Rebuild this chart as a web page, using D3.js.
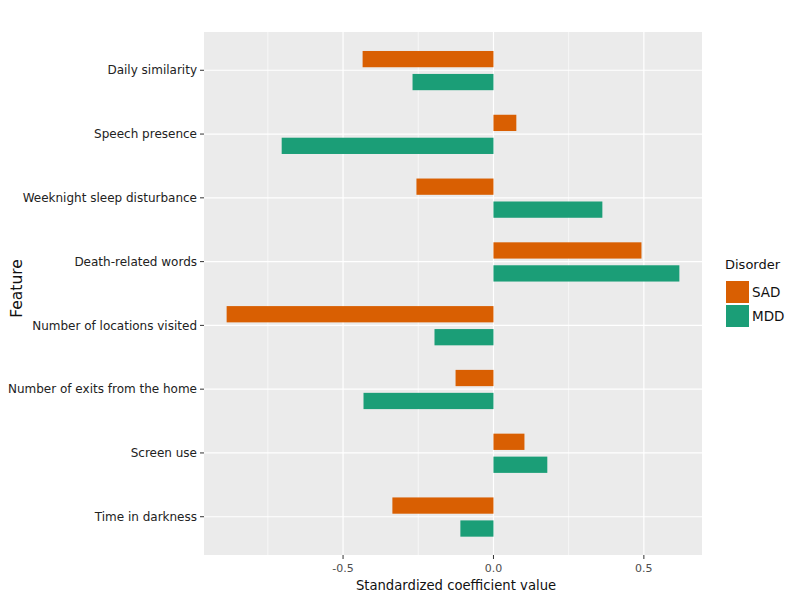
<!DOCTYPE html>
<html><head><meta charset="utf-8">
<script src="https://cdn.jsdelivr.net/npm/d3@7"></script>
<style>body{margin:0;background:#fff}svg{font-family:"DejaVu Sans",Verdana,sans-serif}</style>
</head><body><svg id="c" width="800" height="600"></svg>
<script>
const features = ["Daily similarity","Speech presence","Weeknight sleep disturbance","Death-related words","Number of locations visited","Number of exits from the home","Screen use","Time in darkness"];
const sadValues = [-0.435, 0.076, -0.256, 0.492, -0.887, -0.126, 0.103, -0.336];
const mddValues = [-0.269, -0.704, 0.362, 0.618, -0.196, -0.432, 0.179, -0.110];
const seriesNames = ["SAD","MDD"];
const seriesColors = ["#D95F02","#1B9E77"];
const xTicks = [-0.5, 0, 0.5];
const xTickLabels = ["-0.5", "0.0", "0.5"];
const xMinor = [-0.75, -0.25, 0.25];

const svg = d3.select("#c");
const L = 204, R = 702, T = 32, B = 555;
const all = sadValues.concat(mddValues);
const lo = d3.min(all), hi = d3.max(all), pad = (hi - lo) * 0.05;
const x = d3.scaleLinear().domain([lo - pad, hi + pad]).range([L, R]);
const y = d3.scaleLinear().domain([-0.6, features.length - 1 + 0.6]).range([T, B]);
const yPos = i => y(i);

svg.append("rect").attr("x", L).attr("y", T).attr("width", R - L).attr("height", B - T).attr("fill", "#EBEBEB");
const g = svg.append("g");
g.selectAll(".mn").data(xMinor).join("line").attr("x1", d => x(d)).attr("x2", d => x(d)).attr("y1", T).attr("y2", B).attr("stroke", "#fff").attr("stroke-width", 0.6);
g.selectAll(".mj").data(xTicks).join("line").attr("x1", d => x(d)).attr("x2", d => x(d)).attr("y1", T).attr("y2", B).attr("stroke", "#fff").attr("stroke-width", 1.2);
g.selectAll(".hy").data(features).join("line").attr("x1", L).attr("x2", R).attr("y1", (d, i) => yPos(i)).attr("y2", (d, i) => yPos(i)).attr("stroke", "#fff").attr("stroke-width", 1.2);

const off = [-0.175, 0.185], bh = 0.255;
const series = [sadValues, mddValues];
series.forEach((vals, s) => {
  svg.append("g").selectAll("rect").data(vals).join("rect")
    .attr("x", d => x(Math.min(0, d)))
    .attr("width", d => Math.abs(x(d) - x(0)))
    .attr("y", (d, i) => y(i + off[s] - bh / 2))
    .attr("height", y(bh) - y(0))
    .attr("fill", seriesColors[s]);
});

// axes
const xa = svg.append("g");
xTicks.forEach((t, i) => {
  xa.append("line").attr("x1", x(t)).attr("x2", x(t)).attr("y1", B).attr("y2", B + 4).attr("stroke", "#333").attr("stroke-width", 1);
  xa.append("text").attr("x", x(t)).attr("y", B + 17).attr("text-anchor", "middle").attr("font-size", 11).attr("fill", "#4D4D4D").text(xTickLabels[i]);
});
const ya = svg.append("g");
features.forEach((f, i) => {
  ya.append("line").attr("x1", L - 4).attr("x2", L).attr("y1", yPos(i)).attr("y2", yPos(i)).attr("stroke", "#333").attr("stroke-width", 1);
  ya.append("text").attr("x", L - 7).attr("y", yPos(i)).attr("dy", "0.35em").attr("text-anchor", "end").attr("font-size", 12).attr("fill", "#222").text(f);
});
svg.append("text").attr("x", (L + R) / 2 + 3).attr("y", 590).attr("text-anchor", "middle").attr("font-size", 13.2).attr("fill", "#111").text("Standardized coefficient value");
svg.append("text").attr("transform", `translate(22,${(T + B) / 2 - 5}) rotate(-90)`).attr("text-anchor", "middle").attr("font-size", 15.5).attr("fill", "#111").text("Feature");

// legend
const lg = svg.append("g");
lg.append("text").attr("x", 725).attr("y", 269).attr("font-size", 13).attr("fill", "#111").text("Disorder");
seriesNames.forEach((n, i) => {
  lg.append("rect").attr("x", 726).attr("y", 281 + i * 24).attr("width", 23).attr("height", 22).attr("fill", seriesColors[i]);
  lg.append("text").attr("x", 752).attr("y", 292 + i * 24).attr("dy", "0.35em").attr("font-size", 13.5).attr("fill", "#111").text(n);
});
</script></body></html>
